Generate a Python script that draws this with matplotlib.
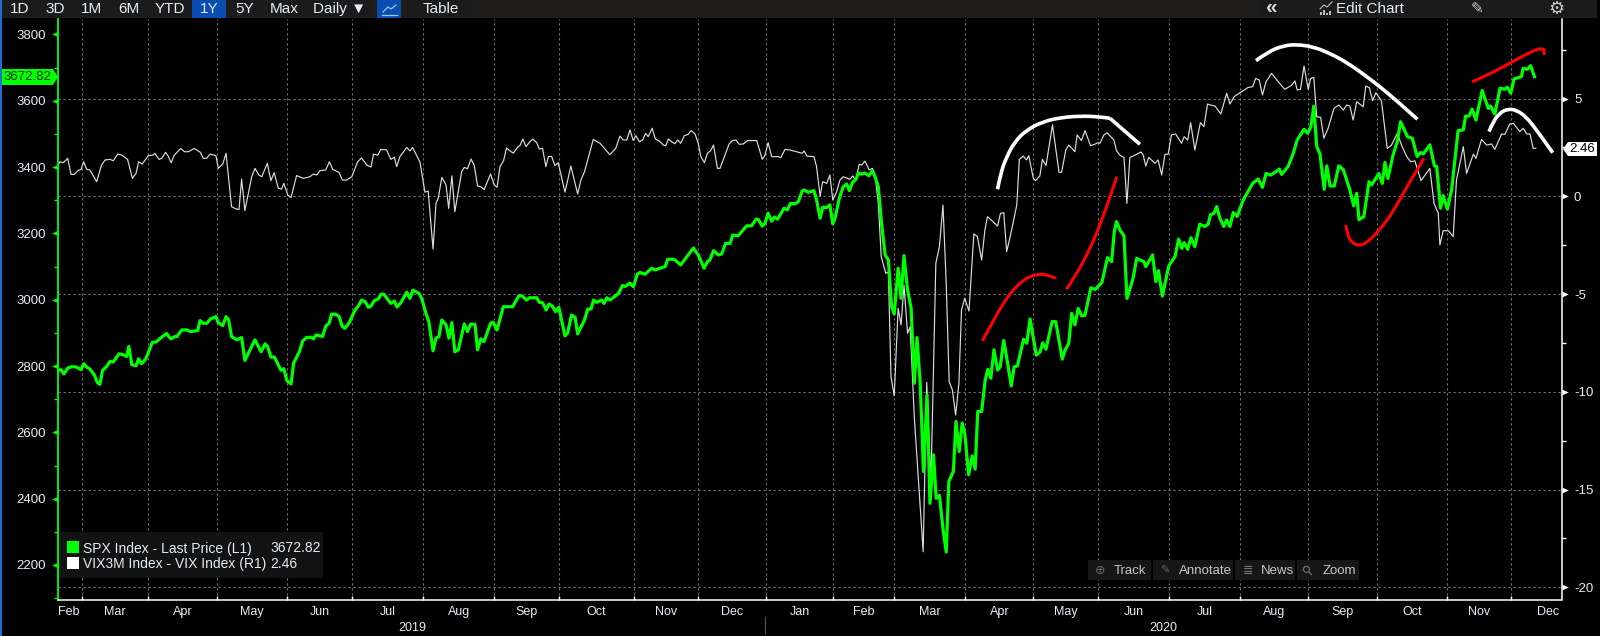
import numpy as np
import matplotlib
matplotlib.use("Agg")
import matplotlib.pyplot as plt
from matplotlib.path import Path
from matplotlib.patches import Rectangle, Polygon, PathPatch

plt.rcParams['font.family'] = ['Liberation Sans', 'DejaVu Sans']

# x is the session number since the start of the chart
spx_x = [0.1,0.9,1.8,3.0,4.2,5.7,7.1,7.9,8.8,9.8,11.2,12.1,12.9,13.7,15,16,17,18.8,20.1,21.1,21.8,22.7,24,24.8,25.7,27,29,30.2,31.9,33.4,34.7,36,36.6,38.1,39.6,40.8,43,43.7,44.7,45.8,46.9,48.6,49.3,50.7,51.7,52.5,53.4,55,56.5,57.5,60.6,62.5,63.7,64.5,65.5,66.6,68.6,69.5,70.4,71.7,72.5,74.3,75.3,76.5,78,78.6,79.4,81.4,82.4,83.4,84.2,85.5,86.5,87.5,88.3,
         89.5,91.4,92.4,93.4,94.5,95.5,96.3,97.3,98.6,99.4,100.3,102.4,103.5,104.3,105.5,107.3,108.3,109.2,111.1,111.9,113.2,114.1,115.4,116.3,117.2,118.1,119.4,120.3,121.2,122.1,123.2,125,126,127,128.3,129.1,130.1,131.1,133.1,133.9,135.1,137,139.9,141.8,142.7,144.2,145,147.3,148.1,149.1,150.2,151.1,152.1,153.1,154.1,156,156.8,158,159.1,159.9,162,163,164,164.8,165.7,167.3,168,168.9,169.8,171.6,172.4,173.7,174.5,
         176,177,178.3,179.1,180.6,182.7,183.7,186.8,187.6,189.6,191.6,193.9,195.5,197,198.8,199.8,200.6,201.7,203.2,204.2,205.4,206.8,207.6,209.3,211.9,213.4,214.8,215.5,216.7,217.5,218.5,219.6,220.4,221.4,223.4,224.4,225.4,226.8,227.8,229,229.6,230.9,232.6,233.4,234.5,235.3,236.5,237.5,238.4,239.1,240.4,241.6,242.7,243.5,244.5,245.5,246.3,247.3,248.3,249.5,250.6,
         251.4,252.4,253.5,254.5,255.5,256.5,257.3,258.5,259.4,260.3,261.4,262.5,263.5,264.3,265.3,266.3,267.4,268.3,269.4,270.2,271.2,272.4,273.3,274.1,275.5,276.3,277.3,278.2,279,280.2,281.3,282.2,283,284.2,285.3,286.1,287,288,289.1,289.9,291,292.2,293.3,294.2,295.2,297.1,298.1,299.1,301,302.2,303,304,305.9,307,309,309.9,311,311.9,312.9,313.9,315,316,317.8,319.1,321.2,
         322.9,324.2,325,325.7,326.7,328,328.9,330.8,331.9,332.9,334.1,334.7,336.8,337.8,338.6,339.8,341.8,343.7,344.8,345.8,346.5,347.6,348.6,349.8,351.3,352.9,353.9,354.6,355.7,356.5,
         357.5,358.7,359.6,360.6,361.6,362.8,364.7,367.6,369.3,370.6,371.7,373.1,374.7,375.8,376.5,378.5,380.1,381.3,383.4,384.5,385.5,386.4,387.3,388.3,389.6,390.4,391.4,392.7,394.1,395.5,397.5,398.7,399.6,400.3,401.8,403.4,404.2,406.4,407.5,408.3,409.2,410.8,412.1,413.1,415.2,416.7,418.2,419.3,420.1,422.1,423.5,424.2,425.4,426.2,427.5,428.8,430.8,432.4,433.1,434.2,435.1,436.3,438.2,440.1,440.8,442.1,443.7,445.2,445.9,447,448,450.3,450.8,452.1,453.1,454.3]
spx_y = [2787,2789,2776,2794,2798,2797,2789,2807,2797,2791,2773,2750,2745,2787,2799,2814,2812,2837,2834,2829,2859,2804,2801,2822,2807,2821,2871,2873,2887,2898,2882,2889,2889,2909,2909,2904,2907,2937,2929,2929,2942,2949,2931,2922,2949,2939,2889,2879,2886,2817,2879,2843,2867,2859,2827,2827,2787,2792,2756,2746,2809,2844,2876,2886,2887,2882,2894,2889,2921,2929,2957,2956,2949,2919,2914,
         2929,2969,2981,2999,2994,2977,2981,2997,3003,3017,3016,2989,2996,2978,2991,3023,3004,3029,3019,3004,2959,2934,2846,2884,2889,2939,2924,2884,2931,2843,2849,2927,2904,2927,2926,2849,2882,2874,2929,2932,2909,2979,2979,3012,3012,2999,3006,3006,2992,2991,2969,2987,2981,2964,2977,2891,2899,2954,2947,2897,2939,2972,2972,2999,2992,2999,2989,3006,2999,3012,3018,3043,3040,
         3050,3039,3078,3082,3077,3095,3090,3100,3122,3122,3105,3135,3156,3135,3095,3115,3120,3148,3135,3138,3170,3170,3195,3193,3223,3223,3243,3242,3222,3230,3261,3237,3249,3243,3276,3271,3291,3289,3296,3328,3331,3324,3329,3301,3246,3279,3278,3286,3229,3246,3306,3341,3349,3329,3354,3363,3382,3379,3382,3374,3389,
         3371,3341,3221,3135,3120,2979,2957,3095,3004,3133,3030,2974,2748,2886,2748,2482,2713,2386,2532,2401,2410,2301,2239,2452,2482,2633,2542,2628,2597,2472,2529,2489,2663,2663,2758,2790,2763,2849,2788,2798,2877,2808,2740,2798,2800,2881,2869,2942,2833,2843,2870,2851,2934,2934,2821,2849,2868,2959,2924,2974,2951,2953,3036,3031,3052,
         3127,3115,3205,3236,3211,3193,3004,3065,3125,3120,3115,3100,3135,3055,3088,3011,3103,3130,3183,3155,3172,3152,3187,3160,3228,3221,3228,3256,3261,3281,
         3246,3221,3241,3221,3263,3251,3301,3351,3364,3339,3381,3376,3386,3394,3378,3402,3442,3482,3514,3502,3522,3584,3462,3440,3333,3404,3343,3343,3404,3392,3331,3283,3321,3241,3251,3356,3346,3381,3351,3414,3366,3437,3477,3537,3492,3487,3432,3444,3440,3467,3404,3402,3276,3314,3273,3331,3510,3512,3554,3554,3575,3542,3631,3577,3584,3560,3638,3635,3641,3623,3666,3673,3698,3695,3706,3672.82]

vix_x = [0,0.6,1.6,3.0,4.0,5.0,6.1,7.1,7.9,8.8,9.8,11.9,13.4,14.5,16,17,18.4,19.6,21.4,22.9,24,24.8,25.9,27.8,29.3,29.8,31.1,31.9,33.1,33.9,34.8,35.8,37.8,38.9,40.1,41.1,41.9,43.8,44.7,45.7,46.8,48.6,49.3,50.7,51.7,53.4,54.8,55.7,56.5,57.5,59.6,60.6,61.8,62.7,64.4,65.5,66.5,67.8,68.8,69.5,70.7,71.7,73.4,75.5,77.5,78.6,79.6,80.6,82.4,83.5,84.5,86.5,87.5,88.8,90.4,
         92.2,93.4,95,96.3,97.1,98.4,99.3,101.1,102.4,103.5,104.2,105.2,107.3,108.3,109.1,111.4,112.9,113.9,115.4,116.3,117,118.1,119.4,120.2,121.2,122.1,124.2,125,126,127.1,128.1,129.1,130.1,131.1,133.1,134.2,135.1,136,137.1,138,139.1,140.1,141.4,142.2,143,144,145.2,146.1,147.3,148.1,149.1,150.1,150.9,151.9,152.9,153.9,156,157.8,159.9,160.9,162,164.7,166.8,169.8,171.6,172.9,173.9,175,
         176,177,177.8,178.9,179.9,180.8,181.6,182.8,183.8,185,186.3,187,187.8,188.8,189.8,190.7,191.6,192.7,193.9,194.8,196,197,197.8,198.9,199.8,200.8,201.7,202.9,203.7,206.5,207.5,208.6,209.6,210.9,212.1,215,216.7,217.5,218.5,219.6,221.6,222.4,223.7,225.2,229,229.6,230.4,232.6,233.4,234.5,235.3,236.5,237.5,238.4,239.6,240.6,241.6,243.7,244.5,245.5,246.5,247.3,248.3,249.6,250.6,251.4,252.4,
         253.3,254.7,255.5,256.3,257.3,258.5,259.4,260.3,261.4,262.2,263.5,266.2,267.3,268.6,270.1,271.2,272.3,273.3,274.2,275.2,276.2,277.2,
         278,279,280.3,281.8,282.9,284.2,285.2,286,289.1,290,291,291.9,293.1,295,295.8,297,298,298.7,300.1,300.8,302.1,302.9,304,306,308,308.8,310.1,311,312.9,313.6,314.9,316,317.7,319,319.9,320.6,321.8,322.8,324.9,325.7,326.7,328,328.9,329.8,331.9,333.2,333.9,334.7,335.6,337.5,338.5,339.6,340.6,341.6,342.6,343.9,345.7,346.5,347.6,348.5,349.8,351.5,352.6,353.7,354.6,356,
         357.8,359.6,360.6,361.9,364.2,366.2,367.6,368.5,369.6,370.6,371.7,373.4,375.7,377.5,379.6,380.6,381.3,382.3,383.4,384.7,385.4,386.4,387.3,388.5,389.5,390.8,392.6,394.1,395.5,396.5,397.5,398.5,399.6,401.6,402.4,403.5,404.5,405.5,407.2,409,410.3,412.1,413.4,415,416.2,417.5,419.4,422.1,423.4,424.7,425.2,426.2,427.8,429.3,430.3,432.4,433.4,435.5,436.3,438,439.6,441.1,442.1,444.2,445.2,446.7,447.8,449.8,450.8,451.9,452.9,453.9,454.7]
vix_y = [1.60,1.77,1.72,1.94,1.12,1.12,1.31,1.38,1.77,1.38,1.35,0.75,1.60,1.86,1.89,1.82,2.16,2.11,1.89,0.92,1.17,1.77,1.65,2.08,2.11,2.20,1.89,1.94,2.25,2.06,1.72,2.11,2.45,2.28,2.28,2.37,2.45,2.25,1.94,1.94,2.16,2.08,1.43,1.65,2.20,-0.53,-0.65,-0.67,0.88,-0.73,1.00,1.43,1.09,1.00,1.69,0.80,1.21,0.41,0.37,0.66,0.07,-0.07,1.06,0.92,1.00,1.14,1.09,1.31,1.35,1.77,1.38,1.22,0.83,0.83,1.00,
         1.77,1.96,1.60,1.50,2.16,2.10,2.40,2.37,1.89,2.00,1.52,2.03,2.50,2.32,2.50,1.74,0.21,0.27,-2.70,-0.36,-0.10,0.97,0.58,-0.62,1.05,-0.79,1.26,1.48,1.41,1.91,1.57,0.53,0.49,0.34,1.14,0.58,0.46,1.52,1.82,2.47,2.32,2.21,2.51,2.61,2.93,2.54,2.79,2.93,2.74,2.42,2.45,1.52,2.03,2.04,1.57,1.72,0.21,1.55,0.12,0.83,1.26,2.91,2.71,2.13,2.45,3.08,2.88,2.88,
         3.39,2.85,3.10,2.79,2.88,3.22,3.05,3.48,2.93,2.83,2.62,2.59,2.93,2.79,2.69,2.88,2.71,3.10,3.17,3.36,3.19,2.71,2.03,1.72,2.20,2.33,2.62,1.43,1.43,2.68,2.85,2.88,2.66,2.68,2.85,2.85,1.89,2.09,2.74,2.03,2.03,1.98,2.40,2.37,2.20,2.32,2.06,2.03,1.52,0.01,0.75,0.66,1.09,-0.19,0.24,0.83,1.00,0.87,1.04,0.83,1.63,1.60,1.80,1.35,1.43,1.09,-0.36,
         -3.09,-3.94,-3.86,-9.23,-10.2,-5.73,-6.58,-4.54,-7.01,-6.67,-11.36,-18.18,-9.52,-14.68,-3.43,-2.58,-0.45,-4.45,-9.48,-9.91,-11.19,-9.57,
         -5.81,-5.22,-5.87,-1.93,-2.06,-3.26,-1.72,-1.04,-1.52,-0.87,-0.84,-2.83,-1.98,-0.45,1.89,2.06,1.86,2.08,0.92,0.80,1.04,1.89,1.57,3.65,1.23,1.23,2.37,2.62,2.28,3.14,2.85,3.36,2.59,2.66,2.74,2.71,3.14,3.25,2.88,2.33,2.11,1.98,-0.36,1.98,2.15,2.27,2.11,1.55,1.99,1.69,1.86,1.09,2.15,2.16,3.14,3.19,2.71,3.05,2.88,3.77,2.37,3.77,3.56,4.72,4.67,4.62,
         4.21,5.27,4.72,5.10,5.35,5.57,5.61,6.03,5.95,5.18,5.86,6.29,5.81,5.47,5.69,5.90,5.44,5.47,6.66,5.47,6.03,6.08,4.07,4.04,2.97,3.48,4.50,4.67,4.41,4.67,4.62,3.90,4.84,4.58,5.64,5.56,4.89,5.30,4.89,2.45,2.62,3.22,2.62,2.03,1.77,1.81,0.80,1.43,-0.36,-0.87,-2.49,-1.76,-1.76,-2.06,0.83,2.54,1.17,2.16,1.94,2.91,2.62,2.68,2.40,3.19,3.17,3.70,3.73,3.31,3.48,3.19,3.19,2.45,2.46]

# hand drawn curves, read against the right axis
white_arc1_x = [289.1,290,291.9,294.4,298,303.1,308.3,314.4,320.6,323.7]
white_arc1_y = [0.36,1.17,2.03,2.79,3.39,3.82,4.02,4.11,4.07,3.99]
white_kink_x = [323.7,332.9]
white_kink_y = [3.99,2.66]
white_arc2_x = [368.6,372.4,377,381.1,386.2,391.4,396.5,401.6,406.7,411.9,418.3]
white_arc2_y = [6.94,7.40,7.70,7.77,7.65,7.31,6.85,6.26,5.61,4.89,3.94]
white_arc3_x = [440.3,441.6,443.7,446.2,448.8,451.9,454.9,457.5,459.9]
white_arc3_y = [3.31,3.82,4.28,4.47,4.41,4.04,3.39,2.80,2.23]
red_arc1_x = [284.4,286.8,289.9,293,296,299.1,302.2,304.8,307]
red_arc1_y = [-7.40,-6.67,-5.73,-4.96,-4.42,-4.08,-3.97,-4.03,-4.20]
red_arc2_x = [310.3,313.5,316.6,319.6,322.7,325.8]
red_arc2_y = [-4.76,-3.94,-3.00,-1.89,-0.53,1.00]
red_arc3_x = [396.2,396.8,398,400.1,402.6,406.7,410.8,415,420.3]
red_arc3_y = [-1.47,-1.98,-2.35,-2.54,-2.40,-1.72,-0.79,0.49,1.94]
red_arc4_x = [435.1,440.6,445.7,450.8,454.4,456.5,457.5,457.2]
red_arc4_y = [5.86,6.26,6.72,7.18,7.48,7.57,7.48,7.23]

month_edges = [-0.5,7.3,27.8,48.8,70.6,90.6,112.4,134.2,154.2,177.1,196.8,217.8,238.6,257.3,279.2,300.1,320.1,342,363.8,384.7,405.7,427.5,447.2,470]
month_labels = ["Feb","Mar","Apr","May","Jun","Jul","Aug","Sep","Oct","Nov","Dec","Jan","Feb","Mar","Apr","May","Jun","Jul","Aug","Sep","Oct","Nov","Dec"]
left_ticks = [2200,2400,2600,2800,3000,3200,3400,3600,3800]
right_ticks = [-20,-15,-10,-5,0,5]

W, H = 1600, 636
TXT = "#e4ecf4"
GRID = "#747474"

fig = plt.figure(figsize=(W/100, H/100), dpi=100, facecolor="black")
L, R, T, B = 58, 1561.5, 19, 600
ax2 = fig.add_axes([L/W, 1-B/H, (R-L)/W, (B-T)/H])
ax = ax2.twinx()
ax.set_zorder(ax2.get_zorder()+1)
ax.patch.set_visible(False)
ax2.set_facecolor("black")

# the twin owns the left scale here, so swap the sides
ax.yaxis.tick_left()
ax2.yaxis.tick_right()
ax2.set_xlim(0, (R-L)/3.25)
ax.set_ylim(2094.4, 3846.7)
ax2.set_ylim(-20.65, 9.07)

ax2.plot(vix_x, vix_y, color="#dcdcdc", lw=0.85, zorder=3)
ax.plot(spx_x, spx_y, color="#00ff00", lw=2.3, zorder=3, solid_joinstyle="round")


def curve(cx, cy, col, width):
    # quadratic pieces through the midpoints, keeps the hand drawn look smooth
    pts = np.column_stack([cx, cy])
    verts = [pts[0]]
    codes = [Path.MOVETO]
    for i in range(1, len(pts)-1):
        end = pts[i+1] if i == len(pts)-2 else (pts[i]+pts[i+1])/2
        verts += [pts[i], end]
        codes += [Path.CURVE3, Path.CURVE3]
    if len(pts) == 2:
        verts.append(pts[1])
        codes.append(Path.LINETO)
    ax2.add_patch(PathPatch(Path(verts, codes), fc="none", ec=col, lw=width, zorder=4, capstyle="butt", joinstyle="round"))


for cx, cy in [(white_arc1_x, white_arc1_y), (white_kink_x, white_kink_y), (white_arc2_x, white_arc2_y), (white_arc3_x, white_arc3_y)]:
    curve(cx, cy, "white", 2.6)
for cx, cy in [(red_arc1_x, red_arc1_y), (red_arc2_x, red_arc2_y), (red_arc3_x, red_arc3_y), (red_arc4_x, red_arc4_y)]:
    curve(cx, cy, "#ff0000", 2.2)

# grid
for m in month_edges[1:-1]:
    ax2.axvline(m, color=GRID, lw=0.8, ls=(0, (2, 2.5)), zorder=1)
for v in right_ticks:
    ax2.axhline(v, color=GRID, lw=0.8, ls=(0, (2, 2.5)), zorder=1)

# x axis
mids = [(a+b)/2 for a, b in zip(month_edges[:-1], month_edges[1:])]
ax2.set_xticks(month_edges[1:-1])
ax2.set_xticklabels([])
ax2.set_xticks(mids, month_labels, minor=True)
ax2.tick_params(axis="x", which="major", direction="in", length=3, width=1, color="white")
ax2.tick_params(axis="x", which="minor", length=0, pad=4.5, labelsize=9, labelcolor=TXT)

# y axes
ax.set_yticks(left_ticks, [str(v) for v in left_ticks])
ax.set_yticks(np.arange(2100, 3900, 200), minor=True)
ax.tick_params(axis="y", which="major", length=0, pad=9, labelsize=9.5, labelcolor=TXT)
ax.tick_params(axis="y", which="minor", length=3, width=1, color="#00ff00")
ax2.set_yticks(right_ticks, [str(v) for v in right_ticks])
ax2.set_yticks(np.arange(-17.5, 9, 5), minor=True)
ax2.tick_params(axis="y", which="major", length=0, pad=9, labelsize=9.5, labelcolor=TXT)
ax2.tick_params(axis="y", which="minor", length=3, width=1, color="white")

for a in (ax, ax2):
    for s in a.spines.values():
        s.set_visible(False)
ax.spines["left"].set_visible(True)
ax.spines["left"].set_color("#00ff00")
ax.spines["left"].set_linewidth(1.3)
ax.spines["right"].set_visible(True)
ax.spines["right"].set_color("white")
ax.spines["right"].set_linewidth(1.1)
ax.spines["bottom"].set_visible(True)
ax.spines["bottom"].set_color("white")
ax.spines["bottom"].set_linewidth(1.1)

# tick arrows sitting on the axis lines
left_tri = Path([(-1, 0), (0, 0.45), (0, -0.45), (-1, 0)], closed=True)
right_tri = Path([(1, 0), (0, 0.45), (0, -0.45), (1, 0)], closed=True)
ax.plot([0]*len(left_ticks), left_ticks, ls="", marker=left_tri, ms=9, color="#00ff00", mew=0,
        transform=ax.get_yaxis_transform(), clip_on=False, zorder=5)
ax2.plot([1]*len(right_ticks), right_ticks, ls="", marker=right_tri, ms=9, color="white", mew=0,
         transform=ax2.get_yaxis_transform(), clip_on=False, zorder=5)

# Bloomberg window chrome, in pixels
ui = fig.add_axes([0, 0, 1, 1], zorder=20)
ui.set_xlim(0, W)
ui.set_ylim(H, 0)
ui.axis("off")


def box(x0, y0, x1, y1, col, **kw):
    ui.add_patch(Rectangle((x0, y0), x1-x0, y1-y0, fc=col, ec="none", **kw))


box(0, 0, 1.5, H, "#1a6fd0")
box(1.5, 0, 1597, 18, "#1f1d1b")
buttons = [("1D", 2, 37), ("3D", 38, 73), ("1M", 74, 110), ("6M", 111, 147), ("YTD", 148, 191), ("1Y", 192, 226),
           ("5Y", 227, 262), ("Max", 263, 306), ("Daily ▼", 308, 371), ("", 377, 401), ("Table", 407, 474)]
for name, x0, x1 in buttons:
    col = "#0a4db0" if name in ("1Y", "") else "#1b1b1b"
    box(x0, 0, x1, 18, col)
    ui.text((x0+x1)/2, 9, name, color=TXT, fontsize=11, ha="center", va="center")
ui.plot([383, 388, 391, 396], [12, 7, 9, 5], color="#9fc4ee", lw=0.9)
ui.plot([382, 397], [15, 15], color="#9fc4ee", lw=0.9)

for x0, x1 in [(1260, 1282), (1283, 1435), (1436, 1516), (1517, 1597)]:
    box(x0, 0, x1, 18, "#1b1b1b")
ui.text(1270.5, 8, "«", color="#d8d8d8", fontsize=15, ha="center", va="center", fontweight="bold")
ui.text(1370, 9, "Edit Chart", color=TXT, fontsize=11, ha="center", va="center")
ui.text(1477, 9, "✎", color="#cccccc", fontsize=11, ha="center", va="center")
ui.text(1556, 9, "⚙", color="#cccccc", fontsize=13, ha="center", va="center")
ui.bar([1321, 1324, 1327, 1330], [-3, -5, -2, -4], bottom=[15, 15, 15, 15], width=2, color="#bbbbbb")
ui.plot([1320, 1324, 1327, 1332], [9, 5, 7, 2], color="#bbbbbb", lw=0.8)

# last value flags
ui.add_patch(Polygon([(2, 69), (53, 69), (58, 77), (53, 85), (2, 85)], fc="#00ff00", ec="none"))
ui.text(27, 77.5, "3672.82", color="#103010", fontsize=9.5, ha="center", va="center")
ui.add_patch(Polygon([(1563, 149), (1568, 142), (1597, 142), (1597, 156), (1568, 156)], fc="white", ec="none"))
ui.text(1582, 149.5, "2.46", color="black", fontsize=9.5, ha="center", va="center")

# legend
box(59, 532, 323, 578, "#121212")
box(67, 541, 79, 553, "#00ff00")
box(67, 557, 79, 569, "white")
ui.text(83, 548.5, "SPX Index - Last Price (L1)", color=TXT, fontsize=10, va="center")
ui.text(270, 548.5, "3672.82", color=TXT, fontsize=10, va="center")
ui.text(83, 564, "VIX3M Index - VIX Index (R1)", color=TXT, fontsize=10, va="center")
ui.text(270, 564, "2.46", color=TXT, fontsize=10, va="center")

# tool strip
for name, x0, x1, tx in [("Track", 1088, 1151, 1114), ("Annotate", 1153, 1233, 1179),
                         ("News", 1235, 1295, 1261), ("Zoom", 1297, 1359, 1323)]:
    box(x0, 560, x1, 580, "#161616")
    ui.text(tx, 570.5, name, color="#c4c8cc", fontsize=9.5, va="center")
ui.text(1100, 570.5, "⊕", color="#666666", fontsize=9, ha="center", va="center")
ui.text(1165, 570.5, "✎", color="#666666", fontsize=8, ha="center", va="center")
ui.text(1248, 570.5, "≣", color="#777777", fontsize=9, ha="center", va="center")
ui.text(1309, 570.5, "⚲", color="#777777", fontsize=9, ha="center", va="center", rotation=45)

# years under the months
ui.text(412, 628, "2019", color=TXT, fontsize=9, ha="center", va="center")
ui.text(1163, 628, "2020", color=TXT, fontsize=9, ha="center", va="center")
ui.plot([765, 765], [617, 633], color="#555555", lw=0.8)

fig.savefig("out.png", dpi=100, facecolor="black")
